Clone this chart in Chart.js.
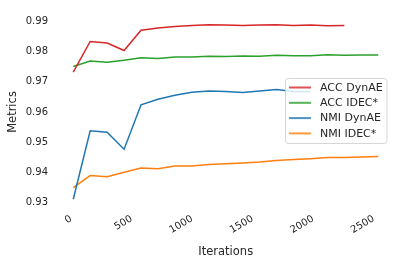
<!DOCTYPE html>
<html>
<head>
<meta charset="utf-8">
<script src="https://cdn.jsdelivr.net/npm/chart.js@4.4.1/dist/chart.umd.min.js"></script>
<style>
html,body{margin:0;padding:0;background:#fff;}
canvas{display:block;}
</style>
</head>
<body>
<canvas id="c" width="406" height="265"></canvas>
<script>
const iterations = [0,140,280,420,560,700,840,980,1120,1260,1400,1540,1680,1820,1960,2100,2240,2380,2520];
const accDynAE = [0.9732,0.9833,0.9828,0.9803,0.9870,0.9877,0.9882,0.9886,0.9888,0.9887,0.9886,0.9887,0.9888,0.9886,0.9887,0.9885,0.9886];
const accIDEC  = [0.9750,0.9768,0.9764,0.9771,0.9779,0.9777,0.9782,0.9782,0.9784,0.9783,0.9785,0.9784,0.9787,0.9786,0.9786,0.9789,0.9787,0.9788,0.9788];
const nmiDynAE = [0.9312,0.9538,0.9533,0.9477,0.9624,0.9642,0.9655,0.9665,0.9669,0.9668,0.9664,0.9669,0.9674,0.9668,0.9667];
const nmiIDEC  = [0.9350,0.9390,0.9386,0.9401,0.9415,0.9413,0.9422,0.9422,0.9427,0.9429,0.9432,0.9435,0.9440,0.9443,0.9446,0.9450,0.9450,0.9451,0.9453];
const seriesNames = ['ACC DynAE','ACC IDEC*','NMI DynAE','NMI IDEC*'];
const xTicks = [0,500,1000,1500,2000,2500];
const yTicks = [0.93,0.94,0.95,0.96,0.97,0.98,0.99];

const colors = ['#d62728','#2ca02c','#1f77b4','#ff7f0e'];
const FONT = "'DejaVu Sans', sans-serif";
const TXT = '#262626';

function pts(vals){ return vals.map((v,i)=>({x:iterations[i], y:v})); }
const allSeries = [accDynAE, accIDEC, nmiDynAE, nmiIDEC];

const legendPlugin = {
  id: 'innerLegend',
  afterDatasetsDraw(chart){
    const ctx = chart.ctx;
    const x0 = 285.5, y0 = 78.5, w = 101.5, h = 65;
    ctx.save();
    ctx.beginPath();
    if (ctx.roundRect) ctx.roundRect(x0, y0, w, h, 3); else ctx.rect(x0,y0,w,h);
    ctx.fillStyle = 'rgba(255,255,255,0.8)';
    ctx.fill();
    ctx.strokeStyle = 'rgba(204,204,204,0.8)';
    ctx.lineWidth = 1;
    ctx.stroke();
    const rows = [87.5, 102.8, 118.1, 133.4];
    chart.data.datasets.forEach((ds,i)=>{
      ctx.beginPath();
      ctx.strokeStyle = ds.borderColor;
      ctx.globalAlpha = 0.8;
      ctx.lineWidth = 2;
      ctx.moveTo(289, rows[i]);
      ctx.lineTo(311, rows[i]);
      ctx.stroke();
      ctx.globalAlpha = 1;
      ctx.fillStyle = TXT;
      ctx.font = '11px ' + FONT;
      ctx.textAlign = 'left';
      ctx.textBaseline = 'middle';
      ctx.fillText(ds.label, 320, rows[i] + 0.5);
    });
    ctx.restore();
  }
};

new Chart(document.getElementById('c'), {
  type: 'line',
  data: {
    datasets: allSeries.map((s,i)=>({
      label: seriesNames[i],
      data: pts(s),
      borderColor: colors[i],
      backgroundColor: colors[i],
      borderWidth: 1.5,
      pointRadius: 0,
      tension: 0,
      fill: false
    }))
  },
  options: {
    responsive: false,
    animation: false,
    layout: { padding: { left: 0, right: 12.5, top: 13, bottom: 0 } },
    plugins: { legend: { display: false }, tooltip: { enabled: false } },
    scales: {
      x: {
        type: 'linear',
        min: -126, max: 2646,
        grid: { display: false, drawTicks: false },
        border: { display: false },
        afterBuildTicks: s => { s.ticks = xTicks.map(v=>({value:v})); },
        afterFit: s => { s.height = 57; },
        ticks: {
          autoSkip: false, minRotation: 30, maxRotation: 30,
          padding: 5, labelOffset: -2,
          color: TXT, font: { family: FONT, size: 10 },
          callback: v => String(v)
        },
        title: { display: true, text: 'Iterations', color: TXT, font: { family: FONT, size: 11.5 }, padding: { top: 0, bottom: 6 } }
      },
      y: {
        min: 0.9283, max: 0.9917,
        grid: { display: false, drawTicks: false },
        border: { display: false },
        afterBuildTicks: s => { s.ticks = yTicks.map(v=>({value:v})); },
        afterFit: s => { s.width = 58; },
        ticks: {
          padding: 10,
          color: TXT, font: { family: FONT, size: 10 },
          callback: v => Number(v).toFixed(2)
        },
        title: { display: true, text: 'Metrics', color: TXT, font: { family: FONT, size: 11.5 }, padding: { top: 6, bottom: 0 } }
      }
    }
  },
  plugins: [legendPlugin]
});
</script>
</body>
</html>
